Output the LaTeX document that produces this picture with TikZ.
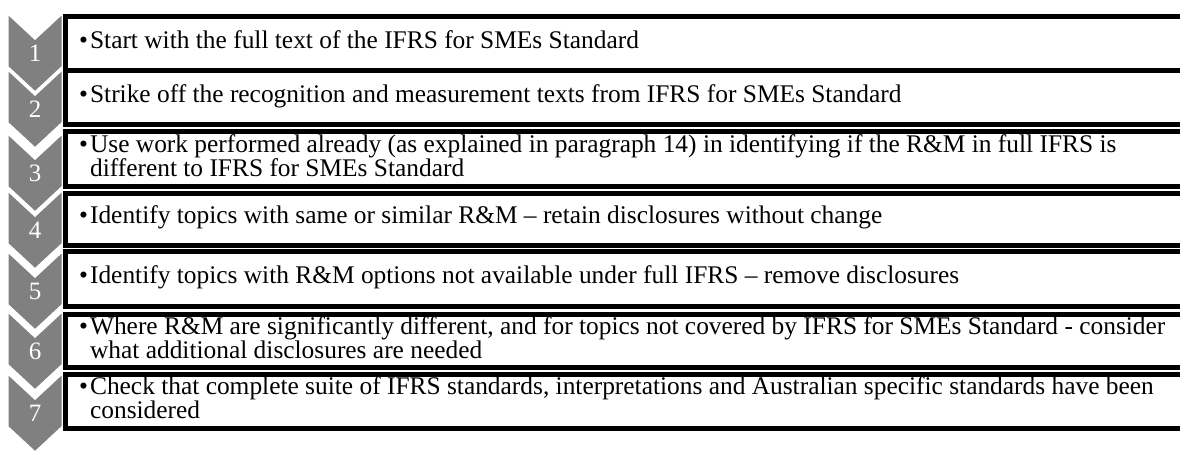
\documentclass[tikz,border=0pt]{standalone}
\usepackage{fontspec}
\setmainfont{Liberation Serif}
\begin{document}
\begin{tikzpicture}[x=1pt,y=-1pt,
  chev/.style={fill=chevgrey, draw=white, line width=3pt, line join=miter},
  num/.style={text=white, font=\fontsize{25}{25}\selectfont, inner sep=0pt},
  stepbox/.style={draw=black, fill=white, line width=5pt},
  steptext/.style={anchor=west, inner sep=0pt, font=\fontsize{25.4}{20.5}\selectfont}]
\definecolor{chevgrey}{RGB}{128,128,128}
\clip (0,0) rectangle (1180,450);
\fill[white] (0,0) rectangle (1180,450);

% chevron column, each one overlapping the one above it
\foreach \t [count=\i] in {12,68,132,189,250,310,372} {
  \filldraw[chev] (7,\t) -- (35,\t+26) -- (63,\t) -- (63,\t+55)
    -- (35,\t+81) -- (7,\t+55) -- cycle;
}
\foreach \t [count=\i] in {12,68,132,189,250,310,372} {
  \node[num] (n\i) at (35,\t+41) {\i};
}

% framed step boxes (they run off the right edge)
\foreach \a/\b in {16/70, 70/124.5, 131/186, 193/245, 251/306.5, 314.5/367, 374/428} {
  \draw[stepbox] (65,\a) rectangle (1210,\b);
}

% step texts, bullet with a hanging indent
\newcommand{\stepitem}[1]{\begin{tabular}{@{}l@{\hspace{2pt}}l@{}}•&#1\end{tabular}}
\node[steptext] (s1) at (79,43) {\stepitem{Start with the full text of the IFRS for SMEs Standard}};
\node[steptext] (s2) at (79,97) {\stepitem{Strike off the recognition and measurement texts from IFRS for SMEs Standard}};
\node[steptext] (s3) at (79,159) {\stepitem{Use work performed already (as explained in paragraph 14) in identifying if the R\&M in full IFRS is\\&different to IFRS for SMEs Standard}};
\node[steptext] (s4) at (79,218) {\stepitem{Identify topics with same or similar R\&M – retain disclosures without change}};
\node[steptext] (s5) at (79,278) {\stepitem{Identify topics with R\&M options not available under full IFRS – remove disclosures}};
\node[steptext] (s6) at (79,341) {\stepitem{Where R\&M are significantly different, and for topics not covered by IFRS for SMEs Standard - consider\\&what additional disclosures are needed}};
\node[steptext] (s7) at (79,401) {\stepitem{Check that complete suite of IFRS standards, interpretations and Australian specific standards have been\\&considered}};
\end{tikzpicture}
\end{document}
